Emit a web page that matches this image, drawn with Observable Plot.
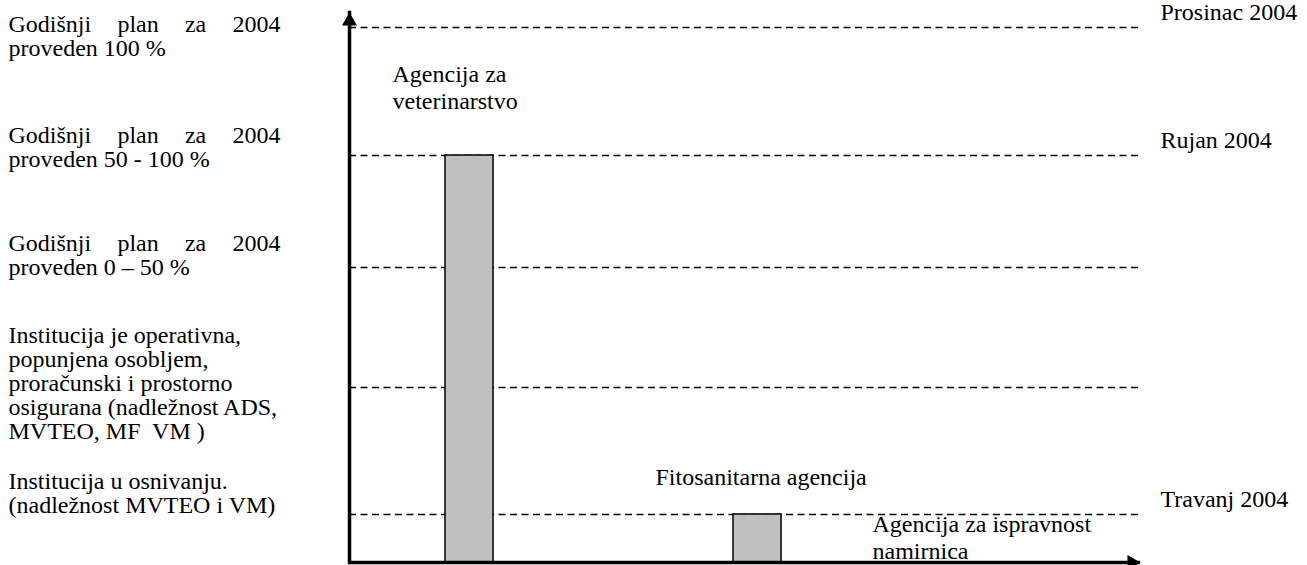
<!DOCTYPE html>
<html>
<head>
<meta charset="utf-8">
<script src="https://cdn.jsdelivr.net/npm/d3@7"></script>
<script src="https://cdn.jsdelivr.net/npm/@observablehq/plot@0.6"></script>
<style>
  body { margin: 0; background: #fff; }
  svg text { white-space: pre; }
</style>
</head>
<body>
<div id="chart"></div>
<script>
// ---- data ----
const levels = [0, 1, 2, 3, 4, 5];
const statusLevels = [1, 2, 3, 4, 5];
const statusLabels = [
  "Institucija u osnivanju.\n(nadležnost MVTEO i VM)",
  "Institucija je operativna,\npopunjena osobljem,\nproračunski i prostorno\nosigurana (nadležnost ADS,\nMVTEO, MF  VM )",
  "Godišnji plan za 2004\nproveden 0 – 50 %",
  "Godišnji plan za 2004\nproveden 50 - 100 %",
  "Godišnji plan za 2004\nproveden 100 %"
];
const monthLevels = [1, 4, 5];
const monthLabels = ["Travanj 2004", "Rujan 2004", "Prosinac 2004"];
const agencies = ["Agencija za veterinarstvo", "Fitosanitarna agencija", "Agencija za ispravnost namirnica"];
const agencyLevels = [4, 1, 0];
const agencyLabels = ["Agencija za\nveterinarstvo", "Fitosanitarna agencija", "Agencija za ispravnost\nnamirnica"];

// ---- tables built from the arrays ----
const statusData = statusLevels.map((l, i) => ({level: l, label: statusLabels[i]}));
const monthData = monthLevels.map((l, i) => ({level: l, label: monthLabels[i]}));
const agencyData = agencies.map((a, i) => ({agency: a, level: agencyLevels[i], label: agencyLabels[i]}));

const FONT = '"Liberation Serif", "Times New Roman", serif';
const FS = 24;

// layout offsets (mark options, per group)
const statusDy = [-2, 51, 7, 11, 28];
const agencyOffsets = [[-77, -47], [-102, -30], [-173, -4]];

const marks = [];
// dashed level lines
marks.push(Plot.ruleY(statusLevels, {stroke: "black", strokeWidth: 1.4, strokeDasharray: "7,4.5"}));
// bars
marks.push(Plot.barY(agencyData.filter(d => d.level > 0), {
  x: "agency", y: "level", fill: "#c0c0c0", stroke: "black", strokeWidth: 1.5
}));
// left status labels
statusData.forEach((d, i) => {
  marks.push(Plot.text([d], {
    y: "level", text: "label", frameAnchor: "left", dx: -341, dy: statusDy[i],
    textAnchor: "start", lineAnchor: "bottom", lineHeight: 1.0,
    fontFamily: FONT, fontSize: FS, fill: "black"
  }));
});
// right month labels
marks.push(Plot.text(monthData, {
  y: "level", text: "label", frameAnchor: "right", dx: 20, dy: -8,
  textAnchor: "start", lineAnchor: "bottom", fontFamily: FONT, fontSize: FS, fill: "black"
}));
// agency labels
agencyData.forEach((d, i) => {
  marks.push(Plot.text([d], {
    x: "agency", y: "level", text: "label",
    dx: agencyOffsets[i][0], dy: agencyOffsets[i][1],
    textAnchor: "start", lineAnchor: "bottom", lineHeight: 1.09,
    fontFamily: FONT, fontSize: FS, fill: "black"
  }));
});
// axes
marks.push(Plot.ruleY([0], {stroke: "black", strokeWidth: 3.5}));
marks.push(Plot.frame({anchor: "left", stroke: "black", strokeWidth: 3.5}));
marks.push(Plot.dot([0], {x: null, y: null, frameAnchor: "top-left", symbol: "triangle", r: 5.6, fill: "black", stroke: null, dy: 8.7}));
marks.push(Plot.dot([0], {x: null, y: null, frameAnchor: "bottom-right", symbol: "triangle", r: 5.6, fill: "black", stroke: null, rotate: 90, dx: -8.7}));

const chart = Plot.plot({
  width: 1307,
  height: 565,
  marginLeft: 349,
  marginRight: 167,
  marginTop: 12,
  marginBottom: 3,
  style: {background: "white", fontFamily: FONT, color: "black", overflow: "visible"},
  x: {type: "band", domain: agencies, range: [445, 1069], paddingInner: 240 / 288, paddingOuter: 0, axis: null},
  y: {type: "linear", domain: levels, range: [562, 514, 387, 267, 155, 27], axis: null},
  marks
});
document.getElementById("chart").append(chart);

// justify the "Godišnji plan za 2004" lines (left text block is justified to x = 280)
d3.select(chart).selectAll("tspan, text")
  .filter(function () { return this.childElementCount === 0 && this.textContent.startsWith("Godišnji plan"); })
  .each(function () {
    const len = this.getComputedTextLength();
    const extra = (272 - len) / 3;
    d3.select(this).style("word-spacing", extra + "px");
  });
</script>
</body>
</html>
